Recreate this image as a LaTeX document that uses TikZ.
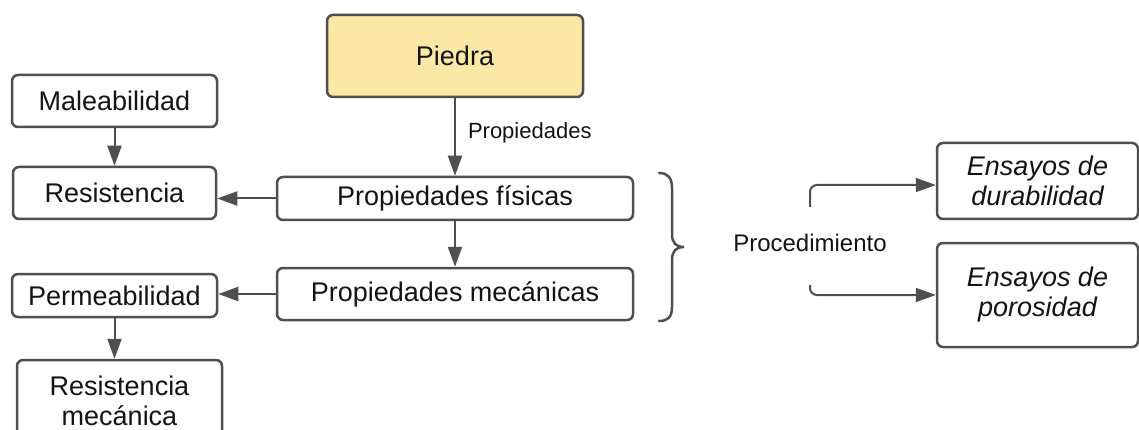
\documentclass[tikz,border=0pt]{standalone}
\usepackage{fontspec}
\setmainfont{Liberation Sans}
\usetikzlibrary{arrows.meta}
\definecolor{ln}{HTML}{4F4F4F}
\definecolor{yel}{HTML}{FCE8A6}
\definecolor{tx}{HTML}{141414}
\begin{document}
\begin{tikzpicture}[x=1pt,y=-1pt,
  box/.style={draw=ln, line width=2.5pt, rounded corners=6pt, fill=white, text=tx,
    font=\fontsize{27}{30}\selectfont, inner sep=0pt, align=center},
  arr/.style={draw=ln, line width=2pt, -{Triangle[length=20pt,width=14pt]}},
  lbl/.style={text=tx, font=\fontsize{22}{26}\selectfont, inner sep=0pt}]
\useasboundingbox (0,0) rectangle (1139,430);
\clip (0,0) rectangle (1139,430);
\fill[white] (0,0) rectangle (1139,430);

\node[box, fill=yel, minimum width=256pt, minimum height=82pt] (piedra) at (455,56) {Piedra};
\node[box, minimum width=205pt, minimum height=52pt] (male) at (114.5,101) {Maleabilidad};
\node[box, minimum width=203pt, minimum height=52pt] (resis) at (114.5,193) {Resistencia};
\node[box, minimum width=356pt, minimum height=43pt] (fis) at (455,198.5) {Propiedades físicas};
\node[box, minimum width=356pt, minimum height=52pt] (mec) at (455,294) {Propiedades mecánicas};
\node[box, minimum width=205pt, minimum height=43pt] (perm) at (114.5,295.5) {Permeabilidad};
\node[box, minimum width=205pt, minimum height=82pt] (resmec) at (119.5,401) {Resistencia\\mecánica};
\node[box, minimum width=201pt, minimum height=76pt, font=\fontsize{27}{30}\selectfont\itshape] (dur) at (1037.5,181) {Ensayos de\\durabilidad};
\node[box, minimum width=201pt, minimum height=104pt, font=\fontsize{27}{30}\selectfont\itshape] (por) at (1037.5,295) {Ensayos de\\porosidad};
\node[lbl, font=\fontsize{24}{28}\selectfont] (proc) at (810,243) {Procedimiento};

\draw[arr] (piedra.south) -- node[lbl, right, xshift=12pt, pos=0.45] (proplbl) {Propiedades} (fis.north);
\draw[arr] (male.south) -- (resis.north);
\draw[arr] (fis.west) -- (fis.west -| resis.east);
\draw[arr] (fis.south) -- (mec.north);
\draw[arr] (mec.west) -- (mec.west -| perm.east);
\draw[arr] (perm.south) -- (perm.south |- resmec.north);

\coordinate (p1) at (810,207);
\coordinate (p2) at (810,285);
\draw[arr, rounded corners=7pt] (p1) |- ([yshift=-4pt]dur.west);
\draw[arr, rounded corners=7pt] (p2) |- (por.west);

\draw[ln, line width=2.5pt, line cap=round]
  (659,173) .. controls (668,173) and (672,178) .. (672,188) -- (672,234)
  .. controls (672,243) and (676,247) .. (684,247)
  .. controls (676,247) and (672,251) .. (672,260) -- (672,307)
  .. controls (672,317) and (668,321) .. (659,321);
\end{tikzpicture}
\end{document}
